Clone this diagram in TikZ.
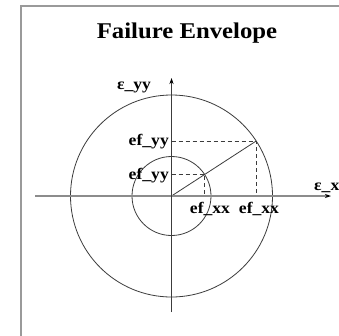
\documentclass[tikz,border=0pt]{standalone}
\usepackage{fontspec}
\setmainfont{Liberation Serif}[FakeStretch=1.1]
\usetikzlibrary{arrows.meta,calc}
\definecolor{framegray}{HTML}{9A9A9A}
\definecolor{axisgray}{HTML}{8C8C8C}
\definecolor{linegray}{HTML}{3C3C3C}
\begin{document}
\begin{tikzpicture}[x=1pt,y=-1pt,
  framestyle/.style={draw=framegray,line width=1.5pt},
  haxis/.style={draw=axisgray,line width=1.6pt,-{Stealth[length=6pt,width=4pt,black]}},
  vaxis/.style={draw=linegray,line width=0.8pt,-{Stealth[length=6pt,width=4pt,black]}},
  circ/.style={draw=linegray,line width=0.8pt},
  radial/.style={draw=linegray,line width=0.8pt},
  guide/.style={draw=linegray,line width=0.8pt,dash pattern=on 4pt off 3pt},
  lbl/.style={font=\fontsize{16}{18}\selectfont\bfseries,text=black,inner sep=1pt},
  ttl/.style={font=\fontsize{22.5}{26}\selectfont\bfseries,text=black}]
\useasboundingbox (0,0) rectangle (339,335);
\fill[white] (0,0) rectangle (339,335);
% frame
\draw[framestyle] (21,340) -- (21,6) -- (345,6);
% title
\node[ttl] (title) at (187,33) {Failure Envelope};
% key points
\coordinate (O) at (171.5,196);
\coordinate (P) at ($(O)+(-33:101)$);
\coordinate (Q) at ($(O)+(-33:39.5)$);
\coordinate (Py) at (O |- P);
\coordinate (Px) at (P |- O);
\coordinate (Qy) at (O |- Q);
\coordinate (Qx) at (Q |- O);
\coordinate (hl) at (35,196);
\coordinate (hr) at (331,196);
\coordinate (vb) at (171.5,312);
\coordinate (vt) at (171.5,78);
% circles
\draw[circ] (O) circle[radius=101];
\draw[circ] (O) circle[radius=39.5];
% guides
\draw[guide] (Py) -- (P) -- (Px);
\draw[guide] (Qy) -- (Q) -- (Qx);
% radial line
\draw[radial] (O) -- (P);
% axes
\draw[haxis] (hl) -- (hr);
\draw[vaxis] (vb) -- (vt);
% labels
\node[lbl,anchor=east] (lyy1) at (170,141.5) {ef\_yy};
\node[lbl,anchor=east] (lyy2) at (170,176) {ef\_yy};
\node[lbl] (lxx1) at (210,209) {ef\_xx};
\node[lbl] (lxx2) at (259,209) {ef\_xx};
\node[lbl] (eyy) at (134,87) {ε\_yy};
\node[lbl,anchor=west] (exx) at (313,188) {ε\_xx};
\end{tikzpicture}
\end{document}
